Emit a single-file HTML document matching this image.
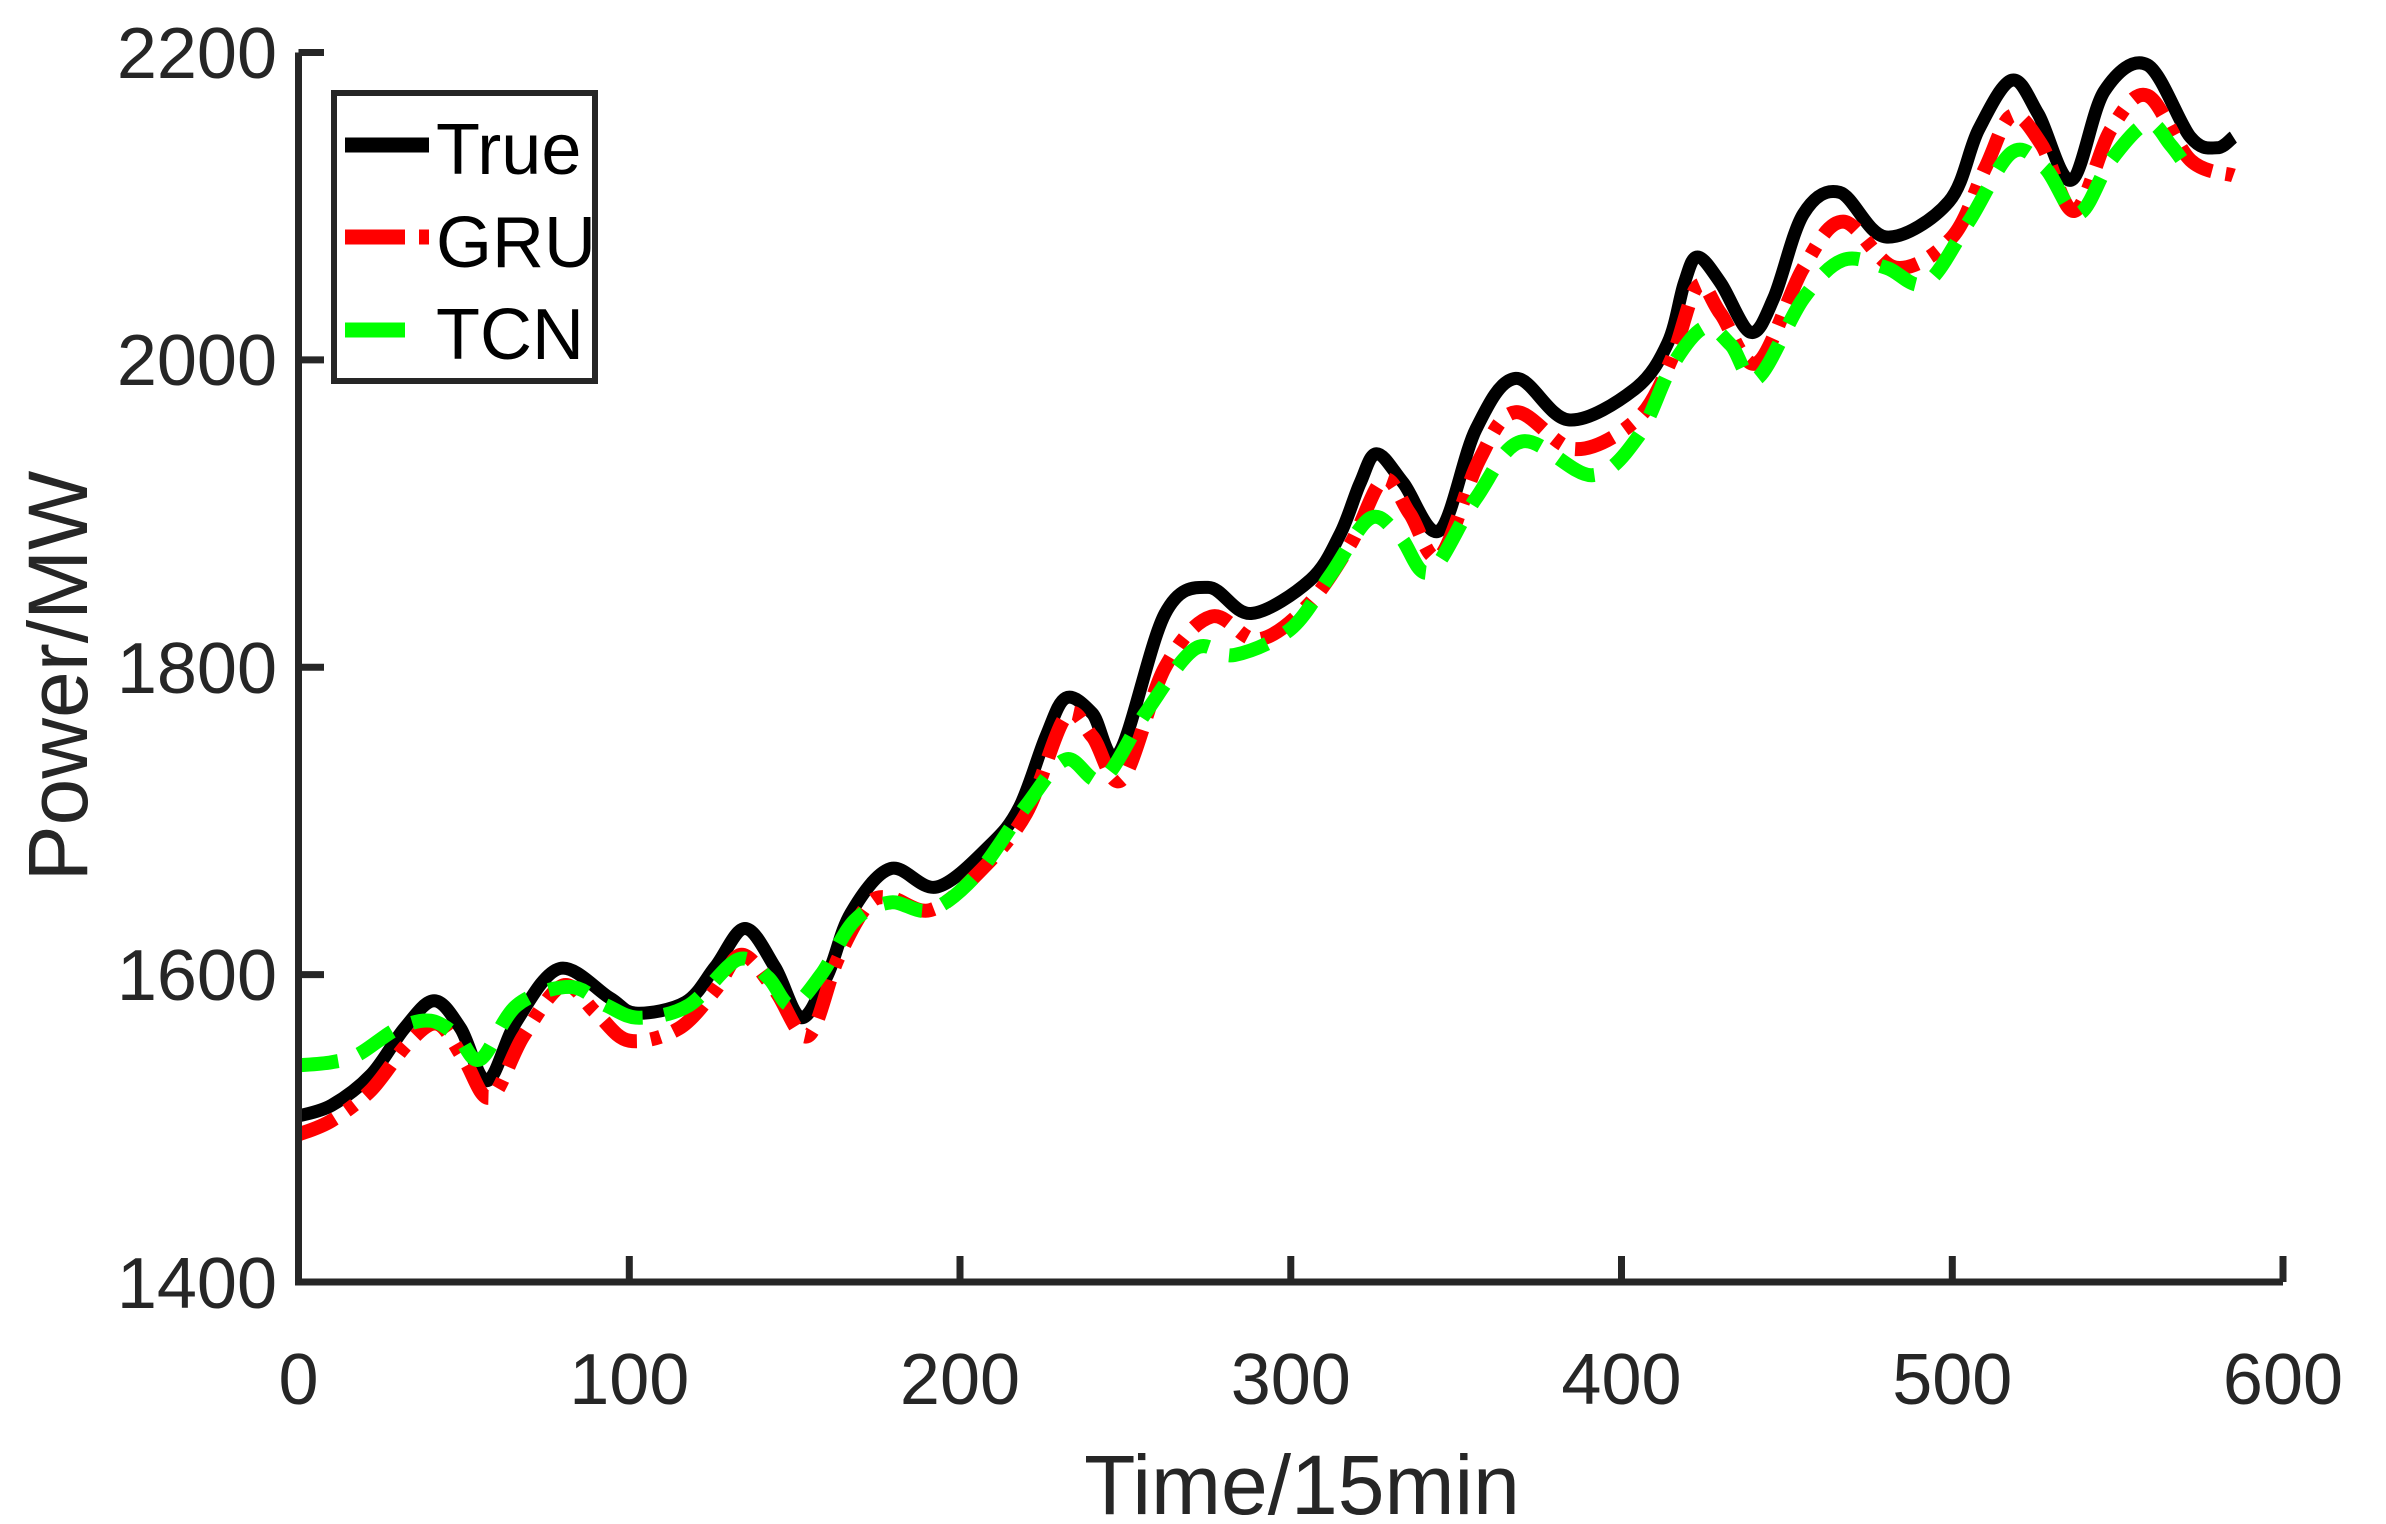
<!DOCTYPE html>
<html><head><meta charset="utf-8"><style>
html,body{margin:0;padding:0;background:#fff;}
svg{display:block;font-family:"Liberation Sans",sans-serif;}
</style></head><body>
<svg id="s" width="2386" height="1524" viewBox="0 0 2386 1524" xmlns="http://www.w3.org/2000/svg">
<g id="series"></g>
<g stroke="#262626" stroke-width="7" fill="none">
<path d="M298.5 52.5 V1282 H2283"/>
<path d="M298.5 52.5 H324 M298.5 359.9 H324 M298.5 667.3 H324 M298.5 974.6 H324"/>
<path d="M629.3 1282 V1256 M960 1282 V1256 M1290.8 1282 V1256 M1621.5 1282 V1256 M1952.3 1282 V1256 M2283 1282 V1256"/>
</g>
<g fill="#262626" font-size="72" text-anchor="end">
<text x="277" y="78">2200</text>
<text x="277" y="385">2000</text>
<text x="277" y="693">1800</text>
<text x="277" y="1000">1600</text>
<text x="277" y="1308">1400</text>
</g>
<g fill="#262626" font-size="72" text-anchor="middle">
<text x="298.5" y="1404">0</text>
<text x="629.3" y="1404">100</text>
<text x="960" y="1404">200</text>
<text x="1290.8" y="1404">300</text>
<text x="1621.5" y="1404">400</text>
<text x="1952.3" y="1404">500</text>
<text x="2283" y="1404">600</text>
</g>
<text x="1302" y="1514" font-size="84" text-anchor="middle" fill="#262626">Time/15min</text>
<text transform="translate(87,676) rotate(-90)" font-size="84" text-anchor="middle" fill="#262626">Power/MW</text>
<rect x="334" y="93" width="261" height="288" fill="#fff" stroke="#262626" stroke-width="6"/>
<path d="M345 145 H429" stroke="#000" stroke-width="15"/>
<path d="M345 237 H405 M419 237 H429" stroke="#f00" stroke-width="15"/>
<path d="M345 330 H405" stroke="#0f0" stroke-width="15"/>
<g font-size="72" fill="#000">
<text x="436" y="174">True</text>
<text x="436" y="267">GRU</text>
<text x="436" y="359">TCN</text>
</g>
</svg>
<script>
const X=x=>298.5+x*3.3075, Y=y=>1282-(y-1400)*1.5368;
function path(pts){
 const p=pts.map(a=>[X(a[0]),Y(a[1])]);
 let d="M"+p[0][0].toFixed(1)+" "+p[0][1].toFixed(1);
 for(let i=0;i<p.length-1;i++){
  const p0=p[Math.max(i-1,0)],p1=p[i],p2=p[i+1],p3=p[Math.min(i+2,p.length-1)];
  const c1=[p1[0]+(p2[0]-p0[0])/6,p1[1]+(p2[1]-p0[1])/6];
  const c2=[p2[0]-(p3[0]-p1[0])/6,p2[1]-(p3[1]-p1[1])/6];
  d+=" C"+c1.map(v=>v.toFixed(1)).join(" ")+" "+c2.map(v=>v.toFixed(1)).join(" ")+" "+p2.map(v=>v.toFixed(1)).join(" ");
 }
 return d;
}
const T=[[0,1508],[10,1515],[22,1535],[32,1565],[41,1583],[49,1565],[57,1531],[66,1570],[79,1604],[94,1585],[102,1575],[117,1582],[126,1605],[135,1630],[144,1605],[152,1572],[160,1600],[167,1640],[179,1669],[193,1657],[209,1684],[218,1709],[226,1755],[232,1780],[240,1770],[248,1744],[262,1835],[275,1852],[288,1835],[306,1857],[315,1887],[321,1920],[326,1939],[334,1920],[345,1889],[356,1955],[368,1988],[384,1961],[404,1981],[414,2011],[419,2050],[423,2067],[430,2050],[439,2018],[446,2040],[455,2095],[466,2109],[480,2080],[499,2103],[508,2150],[518,2182],[526,2160],[536,2117],[546,2175],[559,2192],[572,2145],[580,2138],[585,2145]];
const G=[[0,1496],[10,1505],[22,1525],[33,1555],[42,1568],[50,1545],[58,1520],[68,1560],[80,1593],[90,1575],[100,1557],[115,1565],[126,1590],[134,1613],[144,1590],[154,1560],[163,1610],[172,1645],[179,1650],[191,1642],[205,1665],[220,1705],[232,1768],[240,1755],[249,1727],[262,1800],[276,1833],[290,1818],[305,1840],[318,1880],[328,1922],[336,1900],[345,1872],[357,1935],[368,1966],[386,1942],[405,1962],[415,2000],[423,2048],[430,2030],[441,1998],[455,2060],[467,2090],[483,2060],[500,2080],[510,2125],[518,2159],[527,2140],[537,2097],[548,2150],[559,2172],[572,2130],[585,2120]];
const C=[[0,1541],[10,1543],[18,1548],[30,1565],[40,1570],[48,1560],[55,1545],[66,1580],[82,1592],[93,1580],[103,1572],[118,1580],[133,1610],[142,1598],[149,1580],[158,1600],[168,1635],[179,1647],[191,1642],[205,1665],[220,1710],[232,1740],[243,1727],[256,1770],[271,1812],[283,1808],[300,1825],[312,1860],[324,1897],[333,1885],[342,1862],[356,1910],[370,1947],[391,1925],[405,1950],[415,1995],[425,2021],[433,2010],[441,1988],[455,2040],[467,2065],[480,2060],[492,2050],[505,2090],[518,2135],[528,2125],[538,2095],[548,2130],[559,2154],[566,2140],[572,2122]];
const g=document.getElementById("series");
g.innerHTML=
 '<path d="'+path(T)+'" fill="none" stroke="#000" stroke-width="13" stroke-linejoin="round"/>'+
 '<path d="'+path(G)+'" fill="none" stroke="#f00" stroke-width="14" stroke-dasharray="40 14 10 14"/>'+
 '<path d="'+path(C)+'" fill="none" stroke="#0f0" stroke-width="14" stroke-dasharray="40 22"/>';
</script>
</body></html>
